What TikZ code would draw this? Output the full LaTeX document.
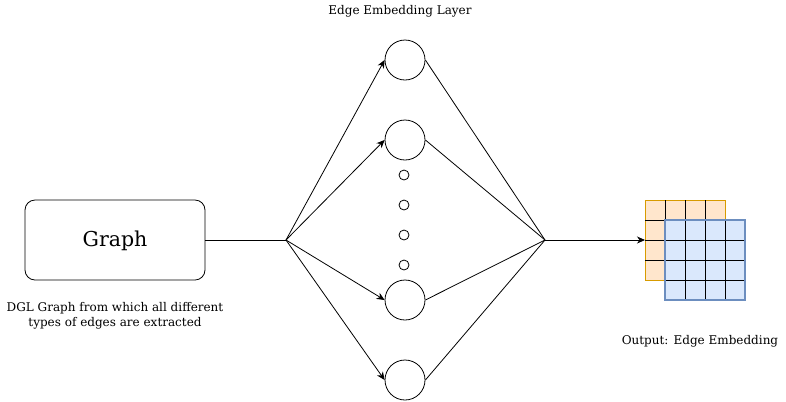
\documentclass[tikz,border=0pt]{standalone}
\usepackage{fontspec}
\setmainfont{DejaVu Serif}
\usetikzlibrary{arrows.meta}
\tikzset{
  neuron/.style={circle,draw,line width=0.8pt,minimum size=40bp,inner sep=0pt},
  dotnode/.style={circle,draw,line width=0.8pt,minimum size=10bp,inner sep=0pt},
  link/.style={line width=0.8pt},
  arrowlink/.style={line width=0.8pt,-{Stealth[length=8bp,width=7bp,inset=2.5bp]}},
  caption/.style={font=\fontsize{12bp}{15bp}\selectfont,align=center,inner sep=0pt}
}
\begin{document}
\begin{tikzpicture}[x=1bp,y=-1bp]
\useasboundingbox (0,0) rectangle (786,401);
\node[caption] (layertitle) at (400,11) {Edge Embedding Layer};
\node[draw,rounded corners=10bp,line width=0.8pt,minimum width=180bp,minimum height=80bp,
  text depth=2bp,font=\fontsize{20.5bp}{24bp}\selectfont] (graph) at (115,240) {Graph};
\node[caption] (graphnote) at (115,315.5) {DGL Graph from which all different\\types of edges are extracted};
\coordinate (fork) at (286,240);
\coordinate (merge) at (545,240);
\node[neuron] (n1) at (405,60) {};
\node[neuron] (n2) at (405,140) {};
\node[neuron] (n3) at (405,300) {};
\node[neuron] (n4) at (405,380) {};
\node[dotnode] (d1) at (404,175) {};
\node[dotnode] (d2) at (404,205) {};
\node[dotnode] (d3) at (404,235) {};
\node[dotnode] (d4) at (404,265) {};
\draw[link] (graph.east) -- (fork);
\foreach \n in {n1,n2,n3,n4} {
  \draw[arrowlink] (fork) -- (\n.west);
  \draw[link] (\n.east) -- (merge);
}
% output matrices
\filldraw[fill={rgb,255:red,255;green,230;blue,204},draw={rgb,255:red,215;green,155;blue,0},line width=0.8pt]
  (645,200) rectangle (725,280);
\draw[line width=0.8pt] (645,220) -- (725,220) (645,240) -- (725,240) (645,260) -- (725,260)
  (665,200) -- (665,280) (685,200) -- (685,280) (705,200) -- (705,280);
\coordinate (orange) at (645,240);
\filldraw[fill={rgb,255:red,218;green,232;blue,252},draw=none] (665,220) rectangle (745,300);
\draw[line width=0.8pt] (665,240) -- (745,240) (665,260) -- (745,260) (665,280) -- (745,280)
  (685,220) -- (685,300) (705,220) -- (705,300) (725,220) -- (725,300);
\draw[draw={rgb,255:red,108;green,142;blue,191},line width=2bp] (665,220) rectangle (745,300);
\draw[arrowlink] (merge) -- (orange);
\node[caption] (outnote) at (700,341) {Output: Edge Embedding};
\end{tikzpicture}
\end{document}
